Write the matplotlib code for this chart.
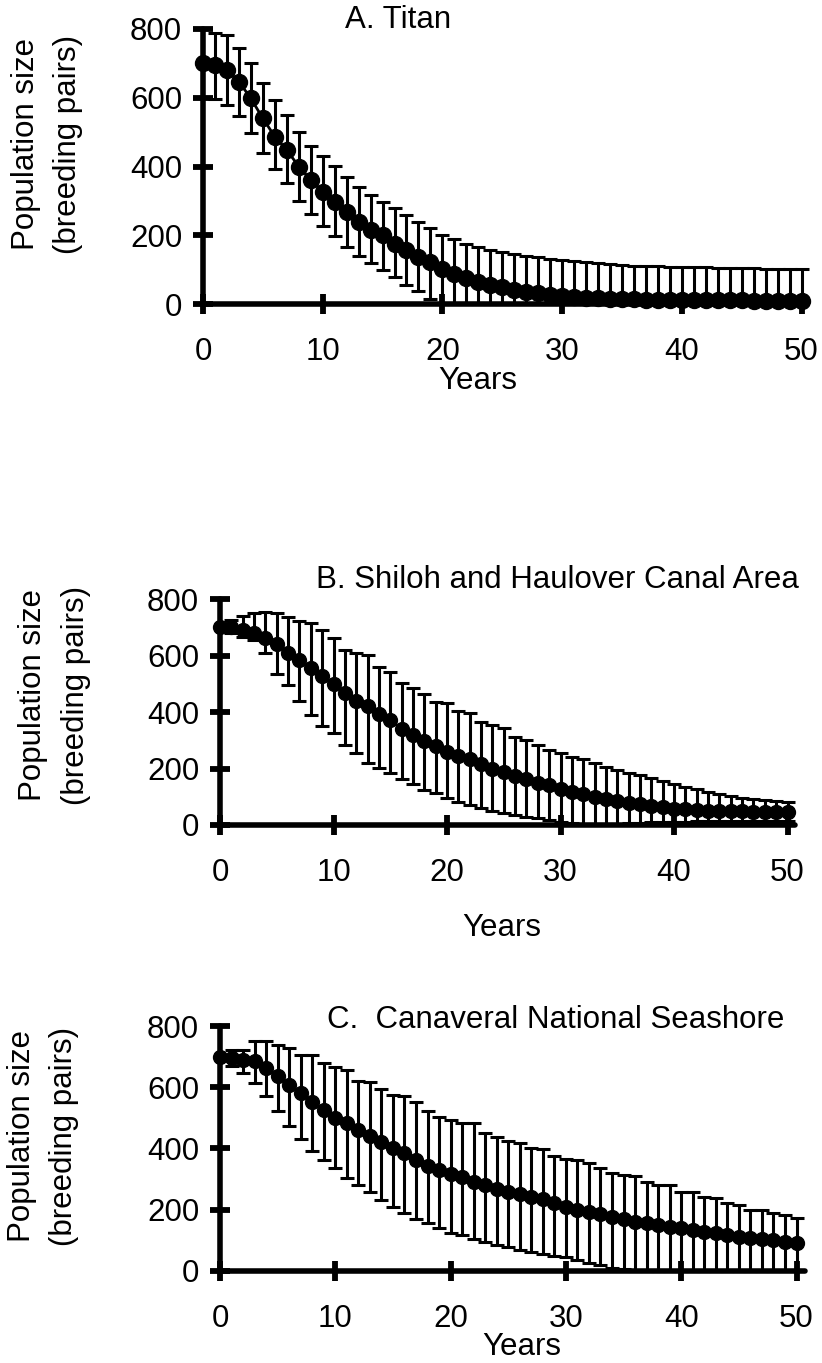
import numpy as np
import matplotlib
matplotlib.use("Agg")
import matplotlib.pyplot as plt

plt.rcParams['font.family'] = ['Liberation Sans', 'DejaVu Sans']

years = list(range(0, 51))

# Panel A: Titan
titan_mean = [700, 695, 680, 647, 598, 540, 487, 448, 400, 361, 327, 298, 269, 240, 215,
              200, 176, 157, 138, 123, 101, 86, 75, 65, 55, 50, 41, 36, 31, 26, 23, 20, 18,
              17, 16, 15, 14, 13, 13, 12, 12, 12, 11, 11, 11, 11, 10, 10, 10, 10, 10]
titan_upper = [800, 787, 782, 744, 700, 642, 593, 550, 501, 460, 430, 402, 370, 341, 317,
               298, 278, 259, 240, 220, 200, 188, 176, 167, 157, 152, 146, 141, 136, 132,
               128, 125, 122, 119, 116, 114, 112, 111, 110, 109, 109, 108, 107, 106, 105,
               104, 104, 103, 103, 102, 102]
titan_lower = [600, 595, 579, 547, 498, 440, 392, 352, 300, 262, 227, 198, 167, 140, 119,
               99, 78, 55, 39, 16, 0, 0, 0, 0, 0, 0, 0, 0, 0, 0, 0, 0, 0, 0, 0, 0, 0, 0, 0,
               0, 0, 0, 0, 0, 0, 0, 0, 0, 0, 0, 0]

# Panel B: Shiloh and Haulover Canal Area
shiloh_mean = [700, 700, 692, 680, 663, 640, 610, 583, 555, 528, 500, 466, 440, 420, 392,
               372, 340, 320, 298, 280, 260, 245, 232, 215, 200, 188, 175, 163, 150, 140,
               128, 118, 108, 100, 92, 84, 78, 73, 68, 62, 58, 55, 53, 51, 50, 49, 48, 47,
               46, 46, 45]
shiloh_upper = [700, 724, 739, 752, 753, 752, 738, 723, 714, 690, 662, 620, 608, 602, 560,
                543, 504, 484, 463, 435, 432, 404, 395, 366, 354, 344, 313, 301, 283, 265,
                254, 240, 232, 220, 205, 196, 185, 178, 167, 156, 146, 136, 126, 118, 108,
                102, 96, 92, 88, 84, 80]
shiloh_lower = [700, 680, 665, 655, 609, 533, 495, 439, 388, 352, 325, 283, 254, 221, 203,
                183, 163, 144, 124, 114, 97, 83, 71, 59, 51, 44, 35, 29, 24, 18, 12, 8, 5,
                4, 4, 5, 6, 8, 9, 10, 11, 12, 13, 14, 14, 15, 15, 15, 15, 15, 15]

# Panel C: Canaveral National Seashore
canav_mean = [700, 695, 690, 684, 662, 635, 607, 580, 553, 524, 500, 484, 460, 442, 420,
              400, 384, 362, 343, 328, 315, 305, 290, 280, 268, 258, 250, 242, 234, 220,
              209, 200, 193, 185, 177, 168, 160, 155, 149, 144, 139, 133, 128, 122, 117,
              111, 106, 103, 100, 95, 90]
canav_upper = [700, 722, 722, 750, 750, 738, 727, 706, 706, 679, 667, 656, 620, 618, 593,
               575, 572, 553, 522, 504, 493, 484, 482, 449, 438, 425, 417, 402, 398, 376,
               365, 362, 351, 335, 318, 313, 311, 291, 280, 279, 258, 257, 242, 237, 220,
               215, 199, 198, 188, 182, 171]
canav_lower = [700, 670, 645, 615, 572, 522, 472, 432, 392, 362, 335, 302, 280, 258, 231,
               209, 190, 169, 157, 139, 124, 117, 103, 95, 84, 76, 68, 61, 55, 48, 44, 35,
               26, 18, 10, 4, 0, 0, 0, 0, 0, 0, 0, 0, 0, 0, 0, 0, 0, 0, 0]

titles = ["A. Titan", "B. Shiloh and Haulover Canal Area", "C.  Canaveral National Seashore"]
yticks = [0, 200, 400, 600, 800]
xticks = [0, 10, 20, 30, 40, 50]

W, H = 822, 1363
fig = plt.figure(figsize=(W / 100, H / 100), dpi=100)

def fx(px):
    return px / W

def fy(py):
    return 1 - py / H

panels = [
    dict(x0=203, ppy=11.97, y0=304, y800=29, ms=11.5, xmax=50.5,
         mean=titan_mean, up=titan_upper, lo=titan_lower, title=titles[0],
         title_xy=(345, 20), ylab_x=(26, 68), ylab_y=144, years_xy=(478, 381)),
    dict(x0=220, ppy=11.35, y0=825, y800=599, ms=10.0, xmax=50.7,
         mean=shiloh_mean, up=shiloh_upper, lo=shiloh_lower, title=titles[1],
         title_xy=(316, 580), ylab_x=(33, 76), ylab_y=695, years_xy=(502, 928)),
    dict(x0=220, ppy=11.53, y0=1270.7, y800=1026, ms=10.0, xmax=50.7,
         mean=canav_mean, up=canav_upper, lo=canav_lower, title=titles[2],
         title_xy=(327, 1020), ylab_x=(22, 64), ylab_y=1136, years_xy=(522, 1347)),
]

FS = 22.5
for p in panels:
    left = fx(p['x0'])
    width = p['ppy'] * p['xmax'] / W
    bottom = fy(p['y0'])
    height = (p['y0'] - p['y800']) / H
    ax = fig.add_axes([left, bottom, width, height])
    mean = np.array(p['mean'], dtype=float)
    up = np.array(p['up'], dtype=float)
    lo = np.array(p['lo'], dtype=float)
    yerr = [mean - lo, up - mean]
    eb = ax.errorbar(years, mean, yerr=yerr, fmt='o-', color='black', ecolor='black',
                     lw=2.0, elinewidth=2.2, capsize=4.8, capthick=2.2,
                     markersize=p['ms'], markerfacecolor='black', markeredgecolor='black',
                     clip_on=False, zorder=3)
    for artist in list(eb.lines[1]) + list(eb.lines[2]):
        artist.set_clip_on(False)
    ax.set_xlim(0, p['xmax'])
    ax.set_ylim(0, 800)
    ax.set_xticks(xticks)
    ax.set_yticks(yticks)
    for s in ['top', 'right']:
        ax.spines[s].set_visible(False)
    for s in ['left', 'bottom']:
        ax.spines[s].set_linewidth(4.0)
        ax.spines[s].set_capstyle('round')
        ax.spines[s].set_zorder(4)
    ax.tick_params(axis='both', direction='inout', length=14, width=4.2,
                   labelsize=FS, color='black')
    ax.tick_params(axis='x', pad=17)
    ax.tick_params(axis='y', pad=8)
    ax.patch.set_alpha(0)
    fig.text(fx(p['title_xy'][0]), fy(p['title_xy'][1]), p['title'], fontsize=FS,
             ha='left', va='center')
    fig.text(fx(p['ylab_x'][0]), fy(p['ylab_y']), "Population size", fontsize=FS,
             rotation=90, ha='center', va='center')
    fig.text(fx(p['ylab_x'][1]), fy(p['ylab_y']), "(breeding pairs)", fontsize=FS,
             rotation=90, ha='center', va='center')
    fig.text(fx(p['years_xy'][0]), fy(p['years_xy'][1]), "Years", fontsize=FS,
             ha='center', va='center')

fig.savefig("out.png", dpi=100)
